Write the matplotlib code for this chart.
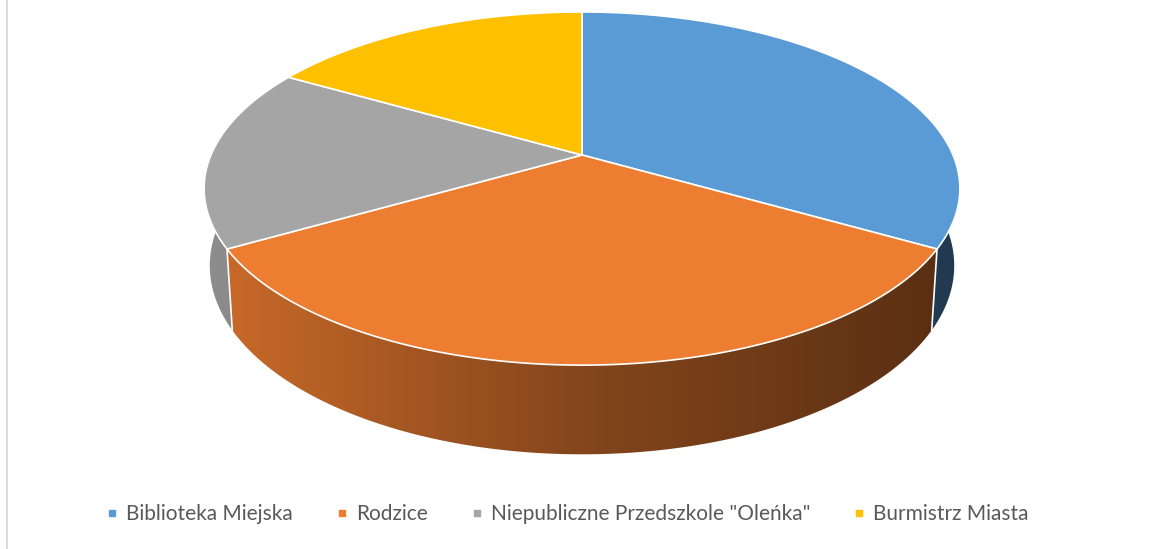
import numpy as np
import matplotlib
matplotlib.use("Agg")
import matplotlib.pyplot as plt
from matplotlib.patches import Polygon
from matplotlib.lines import Line2D
from matplotlib.colors import to_rgb

# ---- data ----
labels = ["Biblioteka Miejska", "Rodzice", 'Niepubliczne Przedszkole "Oleńka"', "Burmistrz Miasta"]
values = [2, 2, 1, 1]
colors = ["#5B9BD5", "#ED7D31", "#A5A5A5", "#FFC000"]

# ---- layout (pixels) ----
W, H = 1152, 549
fig = plt.figure(figsize=(W / 100, H / 100), dpi=100)
ax = fig.add_axes([0, 0, 1, 1])

cx, cy = 582, 155            # pie centre on screen
R, A, B = 371, 170.2, -0.19  # horizontal radius, vertical scale, perspective
D, K = 74.8, 0.985           # depth, bottom scale


def top(th):
    s = -np.cos(th); c = np.sin(th)
    den = 1 + B * s
    return cx + R * c / den, cy + A * s / den


def bot(th):
    s = -np.cos(th); c = np.sin(th)
    den = 1 + B * s
    return cx + K * R * c / den, cy + (K * A * s + D) / den


def shade(x):
    return np.interp(x, [205, 400, 580, 960], [0.86, 0.70, 0.56, 0.37])


fracs = np.array(values, dtype=float) / np.sum(values)
edges = np.concatenate([[0], np.cumsum(fracs)]) * 2 * np.pi

# side walls
xs_img = np.linspace(195, 970, 400)
for i, col in enumerate(colors):
    lo = max(edges[i], np.pi / 2)
    hi = min(edges[i + 1], 3 * np.pi / 2)
    if hi <= lo:
        continue
    t = np.linspace(lo, hi, 200)
    tx, ty = top(t)
    bx, by = bot(t[::-1])
    pts = np.column_stack([np.concatenate([tx, bx]), np.concatenate([ty, by])])
    poly = Polygon(pts, closed=True, facecolor="none", edgecolor="none")
    ax.add_patch(poly)
    base = np.array(to_rgb(col))
    img = (shade(xs_img)[:, None] * base[None, :])[None, :, :]
    im = ax.imshow(img, extent=(195, 970, 470, 140), aspect="auto",
                   interpolation="bilinear", zorder=1)
    im.set_clip_path(poly)

# vertical white edges at slice boundaries on the side
for e in edges:
    if np.pi / 2 < e < 3 * np.pi / 2:
        x0, y0 = top(e); x1, y1 = bot(e)
        ax.plot([x0, x1], [y0, y1], color="white", lw=1.2, zorder=2)

# top faces
for i, col in enumerate(colors):
    t = np.linspace(edges[i], edges[i + 1], 300)
    tx, ty = top(t)
    pts = np.column_stack([np.concatenate([[cx], tx]), np.concatenate([[cy], ty])])
    ax.add_patch(Polygon(pts, closed=True, facecolor=col, edgecolor="white",
                         lw=1.2, joinstyle="round", zorder=3))

# chart-area border on the left
ax.plot([7, 7], [0, H], color="#D9D9D9", lw=1.3, zorder=0)

ax.set_xlim(0, W)
ax.set_ylim(H, 0)
ax.axis("off")

handles = [Line2D([], [], marker="s", linestyle="none", markersize=5,
                  markerfacecolor=c, markeredgecolor=c) for c in colors]
fig.legend(handles, labels, loc="center", bbox_to_anchor=(568 / W, 1 - 514 / H),
           ncol=4, frameon=False, labelcolor="#595959",
           handlelength=0.5, handletextpad=0.42, columnspacing=2.1,
           prop={"family": "Lato", "size": 15})

fig.savefig("out.png", dpi=100)
